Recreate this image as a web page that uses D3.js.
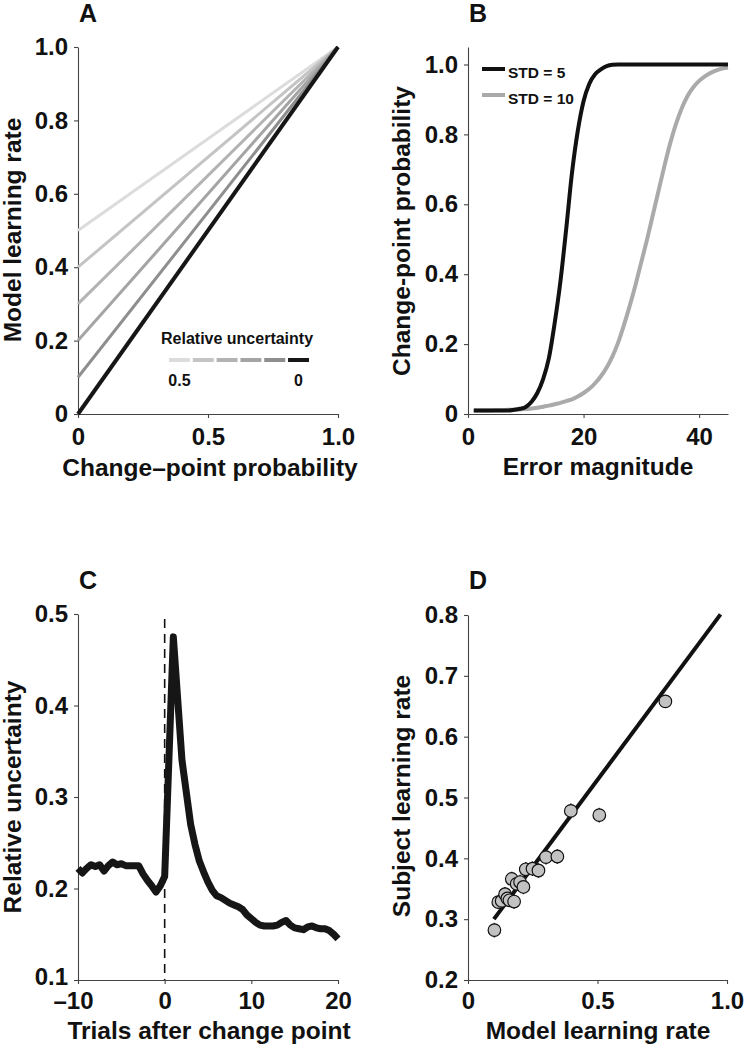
<!DOCTYPE html>
<html><head><meta charset="utf-8">
<script src="https://cdn.jsdelivr.net/npm/d3@7"></script>
<style>
body{margin:0;background:#fff;}
text{font-family:"Liberation Sans",Arial,Helvetica,sans-serif;font-weight:bold;fill:#111;}
</style></head>
<body>
<svg id="fig" width="746" height="1050"></svg>
<script>
// ---------- Panel A data ----------
const uncertaintyLevels = [0.5, 0.4, 0.3, 0.2, 0.1, 0];
const uncertaintyColors = ["#dcdcdc", "#c4c4c4", "#b3b3b3", "#a4a4a4", "#8e8e8e", "#161616"];
const cpProbEnds = [0, 1];
const aYTicks = [0, 0.2, 0.4, 0.6, 0.8, 1.0];
const aXTicks = [0, 0.5, 1.0];

// ---------- Panel B data ----------
const errorMagnitude = [1,2,3,4,5,6,7,8,9,10,11,12,13,14,15,16,17,18,19,20,21,22,23,24,25,26,27,28,29,30,31,32,33,34,35,36,37,38,39,40,41,42,43,44,45];
const cpStd5 = [0.010,0.010,0.010,0.010,0.010,0.010,0.010,0.012,0.015,0.020,0.035,0.060,0.100,0.160,0.260,0.380,0.530,0.690,0.810,0.895,0.945,0.972,0.986,0.995,0.999,1.000,1.000,1.000,1.000,1.000,1.000,1.000,1.000,1.000,1.000,1.000,1.000,1.000,1.000,1.000,1.000,1.000,1.000,1.000,1.000];
const cpStd10 = [0.010,0.010,0.010,0.010,0.011,0.011,0.012,0.012,0.013,0.014,0.016,0.018,0.021,0.024,0.028,0.032,0.037,0.042,0.050,0.060,0.072,0.088,0.108,0.133,0.165,0.205,0.255,0.310,0.370,0.435,0.500,0.570,0.640,0.710,0.775,0.830,0.875,0.910,0.935,0.953,0.966,0.976,0.983,0.988,0.991];
const bYTicks = [0, 0.2, 0.4, 0.6, 0.8, 1.0];
const bXTicks = [0, 20, 40];
const bLegend = ["STD = 5", "STD = 10"];

// ---------- Panel C data ----------
const trialsAfterCP = [-10,-9.5,-9,-8.5,-8,-7.5,-7,-6.5,-6,-5.5,-5,-4.5,-4,-3.5,-3,-2.5,-2,-1.5,-1,-0.5,0,1,2,3,3.5,4,4.5,5,5.5,6,6.5,7,7.5,8,8.5,9,9.5,10,10.5,11,11.5,12,12.5,13,13.5,14,14.5,15,15.5,16,16.5,17,17.5,18,18.5,19,19.5,20];
const relUncertainty = [0.222,0.217,0.222,0.226,0.224,0.226,0.219,0.225,0.229,0.226,0.227,0.225,0.225,0.225,0.225,0.216,0.209,0.203,0.196,0.203,0.213,0.475,0.340,0.270,0.248,0.230,0.218,0.207,0.198,0.192,0.190,0.187,0.184,0.182,0.180,0.177,0.171,0.167,0.163,0.160,0.159,0.159,0.159,0.160,0.163,0.165,0.160,0.157,0.156,0.155,0.158,0.159,0.157,0.156,0.156,0.154,0.150,0.145];
const cYTicks = [0.1, 0.2, 0.3, 0.4, 0.5];
const cXTicks = [-10, 0, 10, 20];

// ---------- Panel D data ----------
const modelLR = [0.102,0.117,0.130,0.143,0.152,0.160,0.178,0.169,0.188,0.201,0.214,0.223,0.249,0.272,0.301,0.345,0.397,0.507,0.762];
const subjectLR = [0.282,0.328,0.330,0.341,0.334,0.331,0.329,0.366,0.358,0.361,0.353,0.382,0.383,0.380,0.402,0.403,0.478,0.471,0.658];
const subjectSEM = [0.012,0.010,0.010,0.012,0.012,0.010,0.012,0.012,0.010,0.012,0.012,0.012,0.012,0.012,0.012,0.012,0.012,0.012,0.010];
const fitLine = [[0.10, 0.300], [0.975, 0.801]];
const dYTicks = [0.2, 0.3, 0.4, 0.5, 0.6, 0.7, 0.8];
const dXTicks = [0, 0.5, 1.0];

// ---------- drawing ----------
const svg = d3.select("#fig");
const fmt1 = d => d === 0 ? "0" : d3.format(".1f")(d);
const axisColor = "#444";
const TICK_FS = 24, TITLE_FS = 24.5;

function styleAxis(g){
  g.selectAll("path.domain").attr("stroke", axisColor).attr("stroke-width", 1.1);
  g.selectAll(".tick line").attr("stroke", axisColor).attr("stroke-width", 1.1);
  g.selectAll(".tick text").attr("font-size", TICK_FS).attr("font-family", '"Liberation Sans",Arial,sans-serif').attr("font-weight", "bold").attr("fill", "#111");
}
function drawAxes(x, y, xt, yt, xf, yf, xPad, xOff){
  const [y0] = y.range();
  const [x0] = x.range();
  const gx = svg.append("g").attr("transform", `translate(0,${y0})`)
    .call(d3.axisBottom(x).tickValues(xt).tickFormat(xf).tickSize(4).tickPadding(xPad).tickSizeOuter(0));
  styleAxis(gx);
  if (xOff) gx.selectAll(".tick text").attr("dx", d => d < 0 ? -5 : 0);
  const gy = svg.append("g").attr("transform", `translate(${x0},0)`)
    .call(d3.axisLeft(y).tickValues(yt).tickFormat(yf).tickSize(4).tickPadding(6).tickSizeOuter(0));
  styleAxis(gy);
  return gy;
}
function yTitle(txt, xBase, yc){
  svg.append("text").attr("transform", `translate(${xBase},${yc}) rotate(-90)`)
    .attr("text-anchor", "middle").attr("font-size", TITLE_FS).text(txt);
}
function xTitle(txt, xc, yBase){
  svg.append("text").attr("x", xc).attr("y", yBase).attr("text-anchor", "middle").attr("font-size", TITLE_FS).text(txt);
}
function panelLabel(txt, x, y){
  svg.append("text").attr("x", x).attr("y", y).attr("font-size", 25).text(txt);
}

// ---------- Panel A ----------
{
  const x = d3.scaleLinear().domain([0, 1]).range([78, 338]);
  const y = d3.scaleLinear().domain([0, 1]).range([414, 47]);
  drawAxes(x, y, aXTicks, aYTicks, fmt1, fmt1, 10);
  const line = d3.line().x(d => x(d[0])).y(d => y(d[1]));
  uncertaintyLevels.forEach((u, i) => {
    const pts = cpProbEnds.map(p => [p, u + (1 - u) * p]);
    svg.append("path").attr("d", line(pts)).attr("fill", "none")
      .attr("stroke", uncertaintyColors[i]).attr("stroke-width", u === 0 ? 4 : 3);
  });
  // legend
  svg.append("text").attr("x", 161).attr("y", 344).attr("font-size", 16).text("Relative uncertainty");
  const lx = d3.scaleBand().domain(uncertaintyLevels).range([169, 309]).paddingInner(0.12);
  uncertaintyLevels.forEach((u, i) => {
    svg.append("line").attr("x1", lx(u)).attr("x2", lx(u) + lx.bandwidth())
      .attr("y1", 360).attr("y2", 360).attr("stroke", uncertaintyColors[i]).attr("stroke-width", 4);
  });
  svg.append("text").attr("x", lx(0.5) + lx.bandwidth() / 2).attr("y", 386).attr("text-anchor", "middle").attr("font-size", 16).text("0.5");
  svg.append("text").attr("x", lx(0) + lx.bandwidth() / 2).attr("y", 386).attr("text-anchor", "middle").attr("font-size", 16).text("0");
  yTitle("Model learning rate", 21, 230);
  xTitle("Change\u2013point probability", 210, 476);
  panelLabel("A", 79, 22);
}

// ---------- Panel B ----------
{
  const x = d3.scaleLinear().domain([0, 45]).range([468, 728]);
  const y = d3.scaleLinear().domain([0, 1.05]).range([414, 47]);
  drawAxes(x, y, bXTicks, bYTicks, d => d, fmt1, 10);
  const line = d3.line().curve(d3.curveMonotoneX).x((d, i) => x(errorMagnitude[i])).y(d => y(d));
  svg.append("path").attr("d", line(cpStd10)).attr("fill", "none").attr("stroke", "#aaaaaa").attr("stroke-width", 4);
  svg.append("path").attr("d", line(cpStd5)).attr("fill", "none").attr("stroke", "#111").attr("stroke-width", 4);
  // legend
  const cols = ["#111", "#aaaaaa"];
  bLegend.forEach((t, i) => {
    const yy = 69 + i * 26;
    svg.append("line").attr("x1", 482).attr("x2", 505).attr("y1", yy).attr("y2", yy).attr("stroke", cols[i]).attr("stroke-width", 4);
    svg.append("text").attr("x", 508).attr("y", yy + 8.5).attr("font-size", 15.5).text(t);
  });
  yTitle("Change-point probability", 410, 231);
  xTitle("Error magnitude", 598, 475);
  panelLabel("B", 469, 22);
}

// ---------- Panel C ----------
{
  const x = d3.scaleLinear().domain([-10, 20]).range([78, 338]);
  const y = d3.scaleLinear().domain([0.1, 0.5]).range([980, 614]);
  const gy = drawAxes(x, y, cXTicks, cYTicks, d => d < 0 ? "\u2013" + Math.abs(d) : d, d => d3.format(".1f")(d), 8, true);
  gy.selectAll(".tick text").filter(d => d === 0.1).attr("dy", "0.2em");
  svg.append("line").attr("x1", x(0)).attr("x2", x(0)).attr("y1", 619).attr("y2", 980)
    .attr("stroke", "#111").attr("stroke-width", 1.6).attr("stroke-dasharray", "9,6");
  const line = d3.line().x((d, i) => x(trialsAfterCP[i])).y(d => y(d));
  svg.append("path").attr("d", line(relUncertainty)).attr("fill", "none").attr("stroke", "#161616")
    .attr("stroke-width", 7).attr("stroke-linejoin", "round").attr("stroke-linecap", "butt");
  yTitle("Relative uncertainty", 21, 797);
  xTitle("Trials after change point", 209, 1039);
  panelLabel("C", 79, 589);
}

// ---------- Panel D ----------
{
  const x = d3.scaleLinear().domain([0, 1]).range([468, 727]);
  const y = d3.scaleLinear().domain([0.2, 0.8]).range([980, 615]);
  drawAxes(x, y, dXTicks, dYTicks, fmt1, d => d3.format(".1f")(d), 8);
  const line = d3.line().x(d => x(d[0])).y(d => y(d[1]));
  svg.append("path").attr("d", line(fitLine)).attr("fill", "none").attr("stroke", "#111").attr("stroke-width", 4);
  const g = svg.append("g");
  modelLR.forEach((m, i) => {
    g.append("line").attr("x1", x(m)).attr("x2", x(m))
      .attr("y1", y(subjectLR[i] - subjectSEM[i])).attr("y2", y(subjectLR[i] + subjectSEM[i]))
      .attr("stroke", "#111").attr("stroke-width", 1.5);
  });
  modelLR.forEach((m, i) => {
    g.append("circle").attr("cx", x(m)).attr("cy", y(subjectLR[i])).attr("r", 6.3)
      .attr("fill", "#c2c2c2").attr("stroke", "#111").attr("stroke-width", 1.2);
  });
  yTitle("Subject learning rate", 410, 796);
  xTitle("Model learning rate", 598, 1039);
  panelLabel("D", 469, 589);
}
</script>
</body></html>
